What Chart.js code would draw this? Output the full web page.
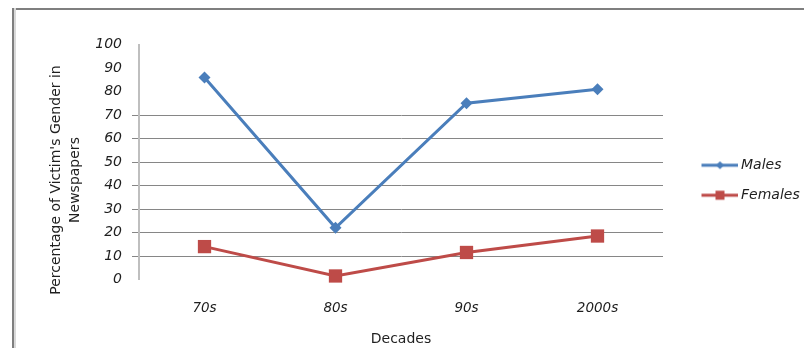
<!DOCTYPE html>
<html>
<head>
<meta charset="utf-8">
<script src="https://cdn.jsdelivr.net/npm/chart.js@4.4.1/dist/chart.umd.min.js"></script>
<style>
  html, body { margin: 0; padding: 0; background: #fff; overflow: hidden; }
  #wrap { position: relative; width: 804px; height: 348px; overflow: hidden; }
  .rule { position: absolute; background: #7f7f7f; }
  #ruleTop { left: 12px; top: 8px; width: 792px; height: 2px; }
  #ruleLeft { left: 12px; top: 8px; width: 2px; height: 340px; border-right: 2px solid #d9d9d9; }
  #chart { position: absolute; left: 0; top: 0; }
</style>
</head>
<body>
<div id="wrap">
  <div class="rule" id="ruleTop"></div>
  <div class="rule" id="ruleLeft"></div>
  <canvas id="chart" width="804" height="348"></canvas>
</div>
<script>
const decades = ["70s", "80s", "90s", "2000s"];
const males = [86, 22, 75, 81];
const females = [14, 1.5, 11.5, 18.5];
const yTitle = ["Percentage of Victim's Gender in", "Newspapers"];

const BLUE = "#4a7ebb";
const RED = "#be4b48";
const INK = "#1f1f1f";

// small line-with-marker image used as the legend key
function legendKey(color, style, radius) {
    const c = document.createElement("canvas");
    c.width = 62;
    c.height = 16;
    const g = c.getContext("2d");
    g.strokeStyle = color;
    g.lineWidth = 3;
    g.beginPath();
    g.moveTo(26, 8);
    g.lineTo(62, 8);
    g.stroke();
    g.fillStyle = color;
    Chart.helpers.drawPoint(g, { pointStyle: style, radius: radius, borderWidth: 0, rotation: 0 }, 44.5, 8);
    return c;
}
const keys = [legendKey(BLUE, "rectRot", 4), legendKey(RED, "rect", 6.4)];

const sideTitle = {
    id: "sideTitle",
    afterLayout(chart) {
        // legend sits a bit lower than the middle of the canvas
        chart.legend.top -= 16;
        chart.legend.bottom -= 16;
    },
    afterDraw(chart) {
        const ctx = chart.ctx;
        ctx.save();
        ctx.font = '14px "DejaVu Sans"';
        ctx.fillStyle = INK;
        ctx.textAlign = "center";
        ctx.textBaseline = "middle";
        ctx.translate(0, 180);
        ctx.rotate(-Math.PI / 2);
        yTitle.forEach((line, i) => ctx.fillText(line, 0, 56 + i * 19));
        ctx.restore();
    }
};

new Chart(document.getElementById("chart"), {
    type: "line",
    data: {
        labels: decades,
        datasets: [{
            label: "Males",
            data: males,
            borderColor: BLUE,
            backgroundColor: BLUE,
            borderWidth: 3,
            pointStyle: "rectRot",
            pointRadius: 6,
            pointBorderWidth: 0,
            tension: 0,
            clip: false
        }, {
            label: "Females",
            data: females,
            borderColor: RED,
            backgroundColor: RED,
            borderWidth: 3,
            pointStyle: "rect",
            pointRadius: 9.4,
            pointBorderWidth: 0,
            tension: 0,
            clip: false
        }]
    },
    options: {
        responsive: false,
        animation: false,
        layout: { padding: { top: 44.5, left: 14, right: 0, bottom: 0 } },
        plugins: {
            tooltip: { enabled: false },
            legend: {
                position: "right",
                maxWidth: 141,
                labels: {
                    usePointStyle: true,
                    pointStyleWidth: 55,
                    padding: 16,
                    color: INK,
                    font: { family: "DejaVu Sans", size: 14, style: "italic" },
                    generateLabels(chart) {
                        const items = Chart.defaults.plugins.legend.labels.generateLabels(chart);
                        items.forEach((it, i) => { it.pointStyle = keys[i]; });
                        return items;
                    }
                }
            }
        },
        scales: {
            x: {
                offset: true,
                grid: { display: false, drawTicks: false },
                border: { display: false },
                ticks: {
                    padding: 21,
                    color: INK,
                    font: { family: "DejaVu Sans", size: 13.5, style: "italic" }
                },
                title: {
                    display: true,
                    text: "Decades",
                    color: INK,
                    padding: 0,
                    font: { family: "DejaVu Sans", size: 14 }
                },
                afterFit(scale) { scale.height = 68.5; }
            },
            y: {
                min: 0,
                max: 100,
                ticks: {
                    stepSize: 10,
                    padding: 10,
                    color: INK,
                    font: { family: "DejaVu Sans", size: 14, style: "italic" }
                },
                grid: {
                    tickLength: 7,
                    lineWidth: 1,
                    color: c => (c.tick && c.tick.value >= 10 && c.tick.value <= 70) ? "#868686" : "rgba(0,0,0,0)"
                },
                border: { display: true, color: "#bfbfbf", width: 2 },
                afterFit(scale) { scale.width = 125; }
            }
        }
    },
    plugins: [sideTitle]
});
</script>
</body>
</html>
